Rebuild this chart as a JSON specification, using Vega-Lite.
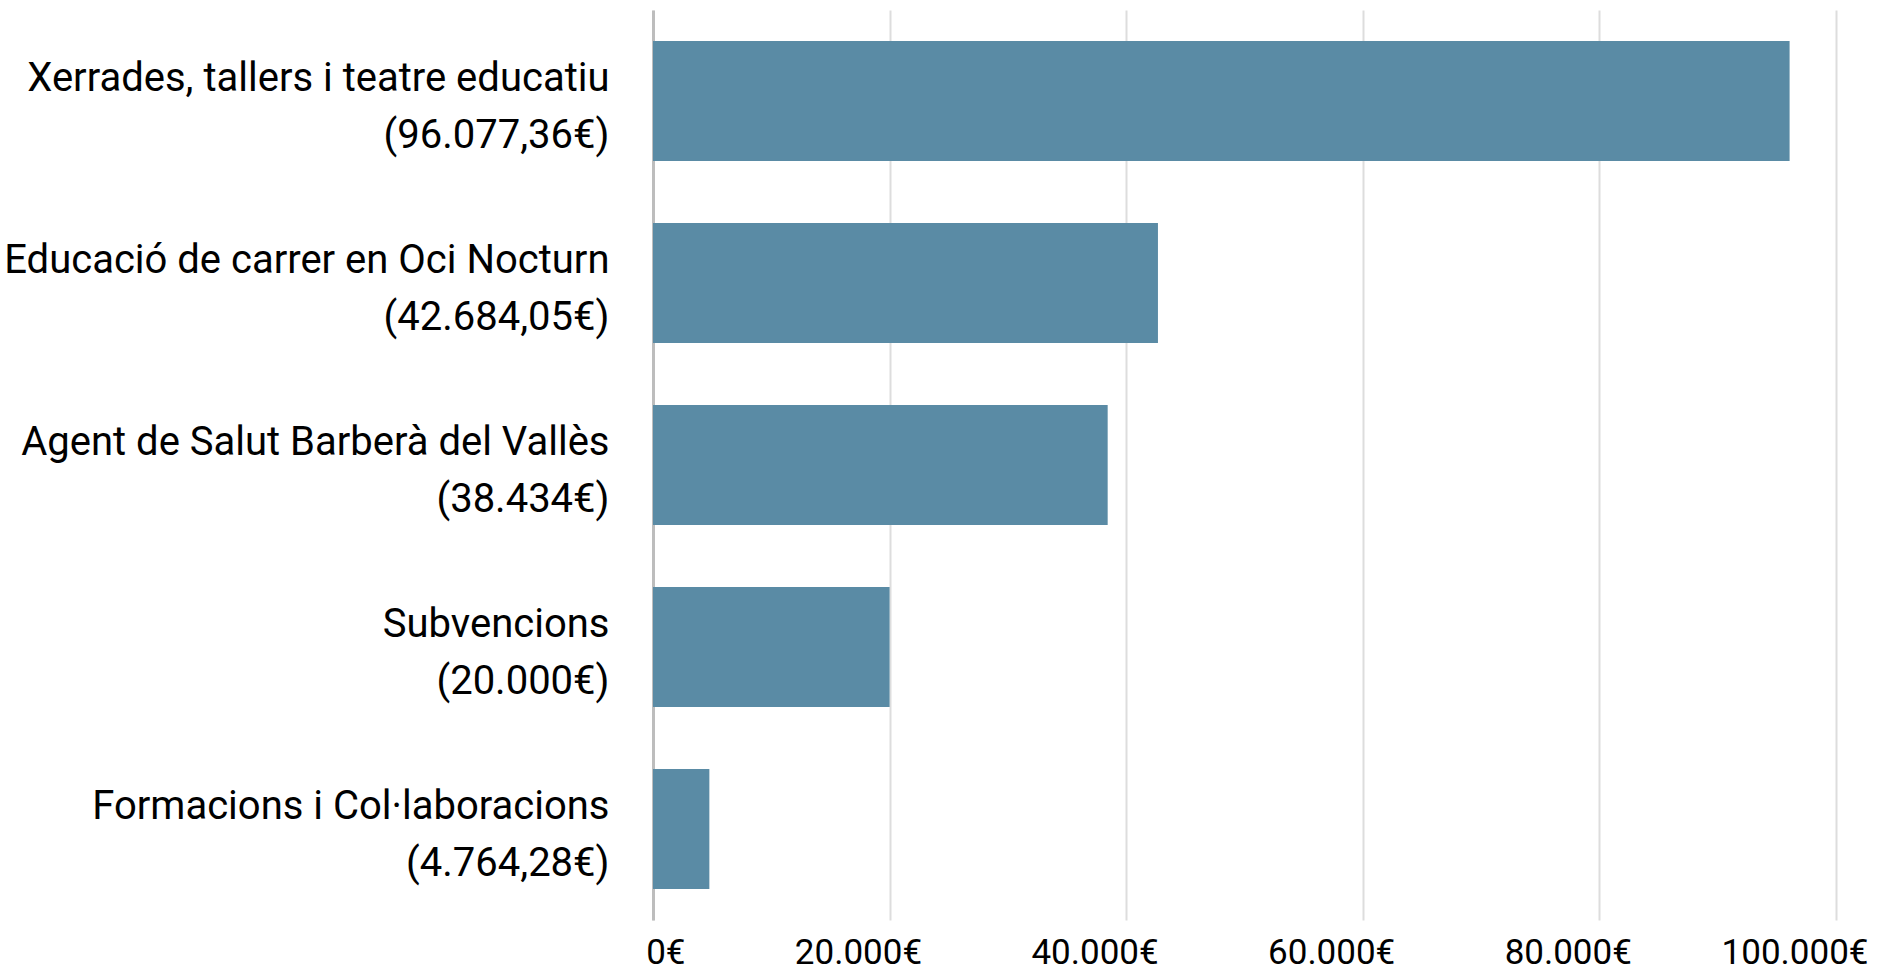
{
  "$schema": "https://vega.github.io/schema/vega-lite/v6.json",
  "autosize": "none",
  "width": 1183,
  "height": 910,
  "padding": {"left": 653, "top": 10, "right": 47, "bottom": 53},
  "background": "white",
  "data": {
    "values": [
      {"label": "Xerrades, tallers i teatre educatiu|(96.077,36€)", "amount": 96077.36},
      {"label": "Educació de carrer en Oci Nocturn|(42.684,05€)", "amount": 42684.05},
      {"label": "Agent de Salut Barberà del Vallès|(38.434€)", "amount": 38434},
      {"label": "Subvencions|(20.000€)", "amount": 20000},
      {"label": "Formacions i Col·laboracions|(4.764,28€)", "amount": 4764.28}
    ]
  },
  "mark": {"type": "bar", "color": "#5a8ba5"},
  "encoding": {
    "y": {
      "field": "label",
      "type": "nominal",
      "sort": null,
      "title": null,
      "scale": {"paddingInner": 0.34, "paddingOuter": 0.17},
      "axis": {
        "labelExpr": "split(datum.label, '|')",
        "labelFont": "Roboto",
        "labelFontSize": 40,
        "labelColor": "#000000",
        "labelLineHeight": 57,
        "labelPadding": 44,
        "labelLimit": 700,
        "labelOffset": -22,
        "ticks": false,
        "domain": true,
        "domainColor": "#bdbdbd",
        "domainWidth": 3,
        "grid": false
      }
    },
    "x": {
      "field": "amount",
      "type": "quantitative",
      "title": null,
      "scale": {"domain": [0, 100000], "nice": false},
      "axis": {
        "values": [0, 20000, 40000, 60000, 80000, 100000],
        "labelExpr": "replace(format(datum.value, ','), regexp(',', 'g'), '.') + '€'",
        "labelFont": "Roboto",
        "labelFontSize": 35,
        "labelColor": "#000000",
        "labelAlign": "right",
        "labelOffset": 32,
        "labelPadding": 15,
        "labelFlush": false,
        "labelOverlap": false,
        "domain": false,
        "ticks": false,
        "grid": true,
        "gridColor": "#dddddd",
        "gridWidth": 2
      }
    }
  },
  "config": {"view": {"stroke": null}}
}
